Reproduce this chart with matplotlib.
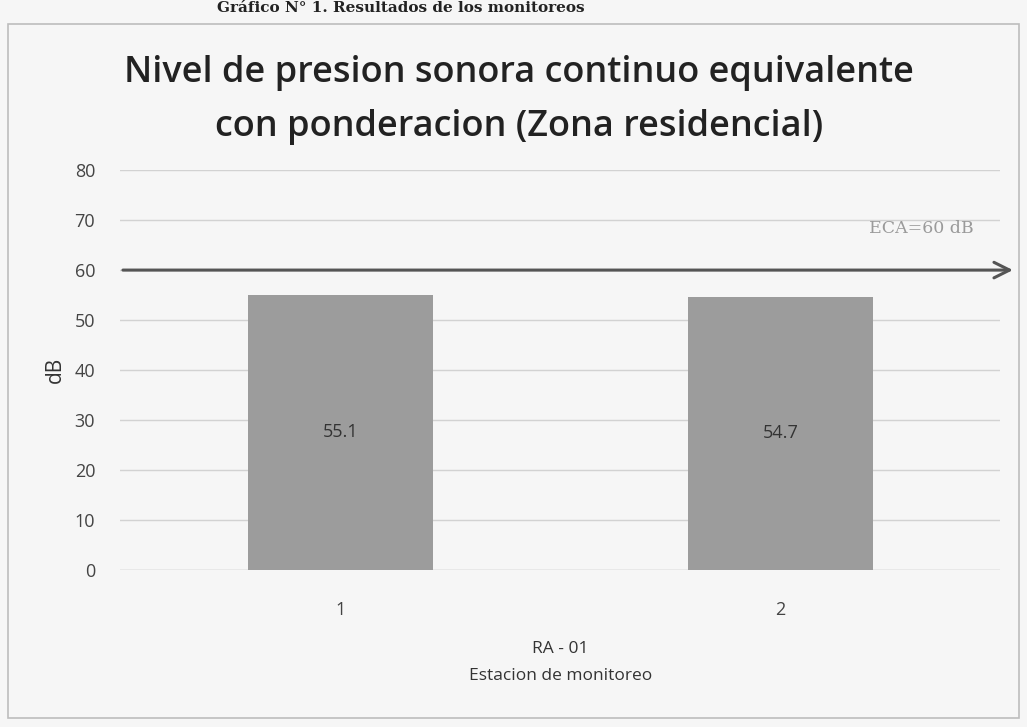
import numpy as np
import matplotlib
matplotlib.use('Agg')
import matplotlib.pyplot as plt

# Equivalent continuous sound level per monitoring station
stations = ['1', '2']
levels = [55.1, 54.7]
eca_limit = 60
y_ticks = [0, 10, 20, 30, 40, 50, 60, 70, 80]

plt.rcParams['font.family'] = ['Open Sans', 'DejaVu Sans']

fig = plt.figure(figsize=(10.27, 7.27), dpi=100, facecolor='#f6f6f6')
ax = fig.add_axes([0.117, 0.216, 0.857, 0.55])
ax.set_facecolor('#f6f6f6')

x = np.arange(len(stations))
bars = ax.bar(x, levels, width=0.42, color='#9c9c9c', zorder=2)

# value labels in the middle of each bar
for b, v in zip(bars, levels):
    ax.text(b.get_x() + b.get_width() / 2, v / 2, f'{v}', ha='center', va='center',
            fontsize=13, color='#333333', zorder=3)

# ECA limit line with arrow
ax.annotate('', xy=(1.535, eca_limit), xytext=(-0.5, eca_limit),
            arrowprops=dict(arrowstyle='->', color='#555555', lw=2.2, mutation_scale=28),
            annotation_clip=False, zorder=4)
ax.text(1.44, 68.3, 'ECA=60 dB', ha='right', va='center', fontsize=12.5,
        family='DejaVu Serif', color='#9a9a9a')

ax.set_xlim(-0.5, 1.5)
ax.set_ylim(0, 80)
ax.set_yticks(y_ticks)
ax.set_xticks(x)
ax.set_xticklabels(stations)
ax.tick_params(axis='both', length=0, labelsize=13, labelcolor='#444444')
ax.tick_params(axis='x', pad=22)
ax.tick_params(axis='y', pad=18)
ax.yaxis.grid(True, color='#d2d2d2', lw=1, zorder=0)
for s in ax.spines.values():
    s.set_visible(False)
ax.axhline(0, color='#cfcfcf', lw=1, zorder=1)

ax.set_ylabel('dB', fontsize=15, color='#333333', labelpad=6)
ax.set_xlabel('RA - 01\nEstacion de monitoreo', fontsize=12.5, color='#333333',
              linespacing=1.9, labelpad=16)

fig.text(0.505, 0.9, 'Nivel de presion sonora continuo equivalente', ha='center', va='center',
         fontsize=26, fontweight='semibold', color='#222222')
fig.text(0.505, 0.825, 'con ponderacion (Zona residencial)', ha='center', va='center',
         fontsize=26, fontweight='semibold', color='#222222')

# document heading above the chart
fig.text(0.39, 0.999, 'Gráfico N° 1. Resultados de los monitoreos', ha='center', va='top',
         fontsize=11, fontweight='bold', family='DejaVu Serif', color='#222222')

# chart border
fig.add_artist(plt.Rectangle((0.008, 0.012), 0.984, 0.955, transform=fig.transFigure,
                             fill=False, edgecolor='#bdbdbd', lw=1.2))

fig.savefig('out.png', dpi=100, facecolor=fig.get_facecolor())
